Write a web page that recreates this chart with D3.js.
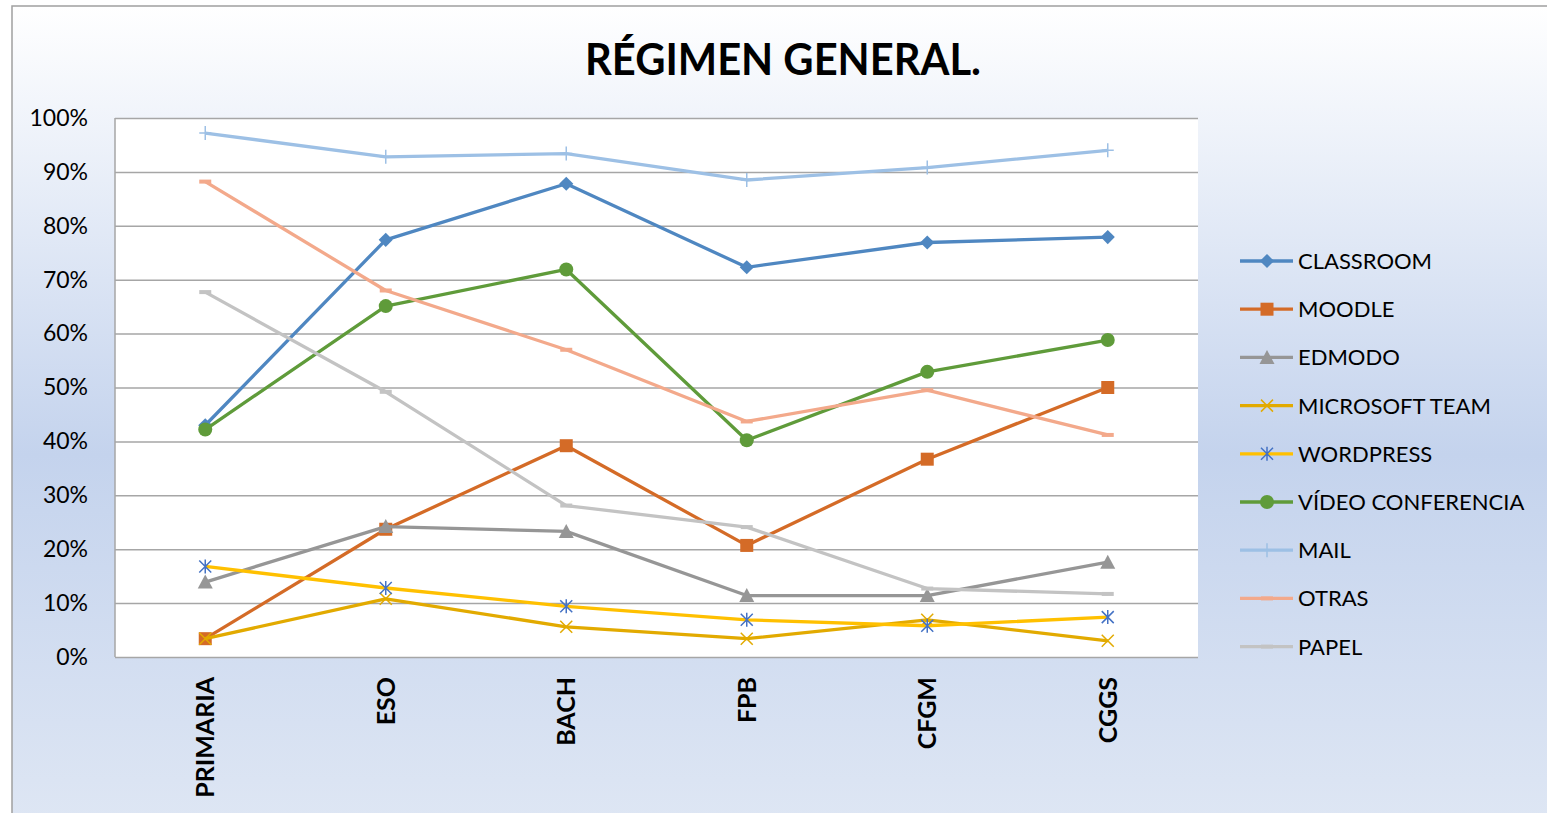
<!DOCTYPE html>
<html>
<head>
<meta charset="utf-8">
<script src="https://cdn.jsdelivr.net/npm/d3@7"></script>
<style>
body { margin: 0; background: #fff; }
text { font-family: Lato, "Open Sans", sans-serif; fill: #000; }
.grid line { stroke: #a6a6a6; stroke-width: 1.5; }
</style>
</head>
<body>
<svg id="chart" width="1547" height="813"></svg>
<script>

var categories = ["PRIMARIA", "ESO", "BACH", "FPB", "CFGM", "CGGS"];
var yTicks = [0, 0.1, 0.2, 0.3, 0.4, 0.5, 0.6, 0.7, 0.8, 0.9, 1];

var classroom = [0.430, 0.774, 0.878, 0.723, 0.769, 0.779];
var moodle = [0.034, 0.237, 0.392, 0.207, 0.367, 0.500];
var edmodo = [0.139, 0.242, 0.233, 0.114, 0.114, 0.176];
var microsoftTeam = [0.034, 0.108, 0.056, 0.034, 0.069, 0.030];
var wordpress = [0.168, 0.128, 0.094, 0.069, 0.058, 0.074];
var videoConferencia = [0.422, 0.651, 0.719, 0.402, 0.529, 0.588];
var mail = [0.972, 0.928, 0.934, 0.885, 0.908, 0.940];
var otras = [0.882, 0.680, 0.570, 0.437, 0.495, 0.412];
var papel = [0.677, 0.492, 0.281, 0.241, 0.127, 0.117];

// name, values, line colour, marker type, marker colour
var series = [
	["CLASSROOM", classroom, "#4f87c1", "diamond", "#4f87c1"],
	["MOODLE", moodle, "#d46b27", "square", "#d46b27"],
	["EDMODO", edmodo, "#969696", "triangle", "#969696"],
	["MICROSOFT TEAM", microsoftTeam, "#e2aa00", "x", "#e2aa00"],
	["WORDPRESS", wordpress, "#ffc000", "star", "#4472c4"],
	["VÍDEO CONFERENCIA", videoConferencia, "#5f9b3a", "circle", "#5f9b3a"],
	["MAIL", mail, "#9dc0e5", "plus", "#9dc0e5"],
	["OTRAS", otras, "#f3a98b", "dash", "#f3a98b"],
	["PAPEL", papel, "#c3c3c3", "dash", "#c3c3c3"]
];

var svg = d3.select("#chart");

// chart area background
var grad = svg.append("defs").append("linearGradient")
	.attr("id", "bg")
	.attr("x1", 0).attr("y1", 0).attr("x2", 0).attr("y2", 1);
grad.append("stop").attr("offset", "0").attr("stop-color", "#ffffff");
grad.append("stop").attr("offset", "0.54").attr("stop-color", "#c4d3ed");
grad.append("stop").attr("offset", "1").attr("stop-color", "#dfe7f4");

svg.append("rect")
	.attr("x", 12).attr("y", 6)
	.attr("width", 1547).attr("height", 830)
	.attr("fill", "url(#bg)")
	.attr("stroke", "#a0a0a0")
	.attr("stroke-width", 1.5);

var plotLeft = 115, plotRight = 1198, plotTop = 118, plotBottom = 657;

svg.append("rect")
	.attr("x", plotLeft).attr("y", plotTop)
	.attr("width", plotRight - plotLeft).attr("height", plotBottom - plotTop)
	.attr("fill", "#fff");

var x = d3.scaleBand().domain(categories).range([plotLeft, plotRight]);
var y = d3.scaleLinear().domain([0, 1]).range([plotBottom, plotTop]);
function cx(i) { return x(categories[i]) + x.bandwidth() / 2; }

// gridlines + y labels
var yAxis = svg.append("g")
	.attr("class", "grid")
	.attr("transform", "translate(" + plotLeft + ",0)")
	.call(d3.axisLeft(y).tickValues(yTicks).tickFormat(d3.format(".0%"))
		.tickSize(-(plotRight - plotLeft)).tickPadding(27));
yAxis.select(".domain").remove();
yAxis.selectAll("text")
	.style("font-size", "23px")
	.style("font-family", "Lato, sans-serif")
	.attr("fill", "#000");

svg.append("line")
	.attr("x1", plotLeft).attr("x2", plotLeft)
	.attr("y1", plotTop).attr("y2", plotBottom)
	.attr("stroke", "#a6a6a6").attr("stroke-width", 1.5);

// category labels, rotated
svg.append("g").selectAll("text")
	.data(categories).enter()
	.append("text")
	.attr("transform", function(d, i) { return "translate(" + (cx(i) + 9) + "," + 677 + ") rotate(-90)"; })
	.attr("text-anchor", "end")
	.style("font-size", "25px")
	.style("font-weight", "bold")
	.text(function(d) { return d; });

// title
svg.append("text")
	.attr("x", 783).attr("y", 75)
	.attr("text-anchor", "middle")
	.attr("textLength", 396)
	.attr("lengthAdjust", "spacingAndGlyphs")
	.style("font-size", "44px")
	.style("font-weight", "bold")
	.text("RÉGIMEN GENERAL.");

function drawMarker(g, type, col) {
	if (type == "diamond") {
		g.append("rect").attr("x", -5).attr("y", -5).attr("width", 10).attr("height", 10)
			.attr("transform", "rotate(45)").attr("fill", col);
	} else if (type == "square") {
		g.append("rect").attr("x", -6.5).attr("y", -6.5).attr("width", 13).attr("height", 13).attr("fill", col);
	} else if (type == "triangle") {
		g.append("path").attr("d", "M0,-7.5L7.5,6.5L-7.5,6.5Z").attr("fill", col);
	} else if (type == "circle") {
		g.append("circle").attr("r", 7).attr("fill", col);
	} else if (type == "x" || type == "star" || type == "plus") {
		var p = "";
		if (type != "plus") p += "M-6,-6L6,6M-6,6L6,-6";
		if (type != "x") p += "M0,-7L0,7";
		if (type == "plus") p += "M-6,0L6,0";
		g.append("path").attr("d", p).attr("fill", "none")
			.attr("stroke", col).attr("stroke-width", 1.5);
	} else if (type == "dash") {
		g.append("rect").attr("x", -6).attr("y", -2).attr("width", 12).attr("height", 4).attr("fill", col);
	}
}

var line = d3.line()
	.x(function(d, i) { return cx(i); })
	.y(function(d) { return y(d); });

for (var s = 0; s < series.length; s++) {
	var sr = series[s];
	var g = svg.append("g").attr("class", "series");
	g.append("path")
		.datum(sr[1])
		.attr("d", line)
		.attr("fill", "none")
		.attr("stroke", sr[2])
		.attr("stroke-width", 3.3)
		.attr("stroke-linejoin", "round");
	sr[1].forEach(function(v, i) {
		var m = g.append("g").attr("transform", "translate(" + cx(i) + "," + y(v) + ")");
		drawMarker(m, sr[3], sr[4]);
	});
}

// legend
var legend = svg.append("g").attr("class", "legend");
series.forEach(function(sr, i) {
	var ly = 261 + i * 48.2;
	var row = legend.append("g").attr("transform", "translate(0," + ly + ")");
	row.append("line")
		.attr("x1", 1240).attr("x2", 1293)
		.attr("stroke", sr[2]).attr("stroke-width", 3.3);
	var m = row.append("g").attr("transform", "translate(1267,0)");
	drawMarker(m, sr[3], sr[4]);
	row.append("text")
		.attr("x", 1298).attr("dy", "0.36em")
		.style("font-size", "22px")
		.text(sr[0]);
});

</script>
</body>
</html>
